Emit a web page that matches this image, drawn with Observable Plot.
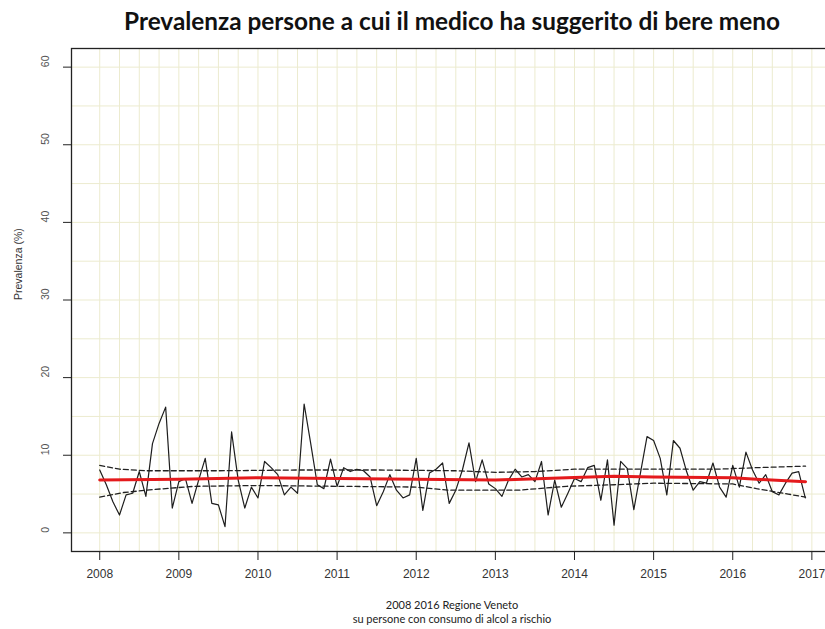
<!DOCTYPE html>
<html><head><meta charset="utf-8">
<script src="https://cdn.jsdelivr.net/npm/d3@7"></script>
<script src="https://cdn.jsdelivr.net/npm/@observablehq/plot@0.6"></script>
<style>
html,body{margin:0;padding:0;background:#fff;overflow:hidden;width:825px;height:629px}
#wrap{position:relative;width:825px;height:629px;overflow:hidden;background:#fff}
#title{position:absolute;left:0;top:9px;width:904px;text-align:center;font-family:Lato,"Open Sans",sans-serif;font-weight:bold;font-size:20px;line-height:24px;color:#111;white-space:nowrap}
#caption{position:absolute;left:0;top:598px;width:904px;text-align:center;font-family:Lato,"Open Sans",sans-serif;font-size:11px;line-height:14px;color:#222}
#chart{position:absolute;left:0;top:0;width:845px}
#chart svg{max-width:none !important;width:845px;height:629px}
</style></head>
<body><div id="wrap">
<div id="chart"></div>
<div id="title"><span id="tspan">Prevalenza persone a cui il medico ha suggerito di bere meno</span></div>
<div id="caption">2008 2016 Regione Veneto<br>su persone con consumo di alcol a rischio</div>
</div>
<script>
// Monthly prevalence (%), Jan 2008 .. Dec 2016
const startYear = 2008;
const prevalenza = [
  8.1, 6.2, 4.0, 2.3, 4.9, 5.1, 7.9, 4.7, 11.5, 14.1, 16.2, 3.2,
  6.6, 7.0, 3.8, 6.8, 9.6, 3.8, 3.6, 0.8, 13.0, 6.8, 3.2, 5.9,
  4.5, 9.2, 8.4, 7.5, 4.9, 5.9, 5.1, 16.6, 11.5, 6.2, 5.7, 9.5,
  6.0, 8.4, 7.9, 8.2, 8.0, 7.2, 3.5, 5.3, 7.5, 5.5, 4.5, 4.9,
  9.6, 2.9, 7.7, 8.2, 9.0, 3.8, 5.5, 8.1, 11.6, 6.6, 9.4, 6.3,
  5.7, 4.7, 6.8, 8.2, 7.2, 7.5, 6.6, 9.2, 2.3, 6.8, 3.3, 5.1,
  7.0, 6.6, 8.4, 8.7, 4.2, 9.4, 1.0, 9.2, 8.3, 3.0, 7.7, 12.4,
  11.9, 9.6, 4.9, 11.9, 10.9, 7.9, 5.5, 6.6, 6.4, 9.0, 5.9, 4.6,
  8.7, 5.9, 10.4, 8.1, 6.4, 7.5, 5.3, 4.9, 6.4, 7.7, 7.9, 4.5
];
// Trend (red)
const trendX = [2008.0, 2009.0, 2010.0, 2011.0, 2012.0, 2013.0, 2013.9, 2014.5, 2015.0, 2016.0, 2016.3, 2016.92];
const trendY = [6.8, 6.9, 7.1, 7.0, 6.9, 6.8, 7.1, 7.3, 7.2, 7.1, 6.9, 6.6];
// Upper / lower dashed bands
const upperX = [2008.0, 2008.25, 2008.6, 2009.5, 2010.5, 2011.5, 2012.5, 2013.0, 2013.5, 2014.0, 2015.0, 2015.8, 2016.3, 2016.92];
const upperY = [8.7, 8.2, 8.0, 8.0, 8.1, 8.1, 8.0, 7.8, 7.9, 8.2, 8.2, 8.2, 8.4, 8.6];
const lowerX = [2008.0, 2008.3, 2008.7, 2009.2, 2010.0, 2011.0, 2012.0, 2012.4, 2013.3, 2013.9, 2014.5, 2015.0, 2016.0, 2016.3, 2016.7, 2016.92];
const lowerY = [4.6, 5.2, 5.6, 6.0, 6.1, 6.0, 5.9, 5.5, 5.5, 6.0, 6.2, 6.4, 6.3, 5.7, 5.0, 4.6];
// Axis ticks
const xTicks = [2008, 2009, 2010, 2011, 2012, 2013, 2014, 2015, 2016, 2017];
const yTicks = [0, 10, 20, 30, 40, 50, 60];

const series = prevalenza.map((v, i) => ({x: startYear + i / 12, y: v}));
const trend = trendX.map((x, i) => ({x, y: trendY[i]}));
const upper = upperX.map((x, i) => ({x, y: upperY[i]}));
const lower = lowerX.map((x, i) => ({x, y: lowerY[i]}));

const xMin = series[0].x, xMax = series[series.length - 1].x;
const xPad = 0.04 * (xMax - xMin);
const yPad = 0.04 * 60;
const gridX = d3.range(xMin, xMax + xPad, 0.25);
const gridY = d3.range(0, 61, 5);
const grid = "#ecebcf";

const chart = Plot.plot({
  width: 845, height: 629,
  marginLeft: 71, marginRight: 12, marginTop: 48, marginBottom: 78,
  x: {domain: [xMin - xPad, xMax + xPad]},
  y: {domain: [-yPad, 60 + yPad]},
  style: {fontFamily: "'Liberation Sans', Arial, sans-serif", fontSize: "12px", color: "#222", background: "white"},
  marks: [
    Plot.ruleX(gridX, {stroke: grid, strokeWidth: 1}),
    Plot.ruleY(gridY, {stroke: grid, strokeWidth: 1}),
    Plot.line(upper, {x: "x", y: "y", stroke: "#222", strokeWidth: 1.3, strokeDasharray: "5,3"}),
    Plot.line(lower, {x: "x", y: "y", stroke: "#222", strokeWidth: 1.3, strokeDasharray: "5,3"}),
    Plot.line(series, {x: "x", y: "y", stroke: "#1e1e1e", strokeWidth: 1.2}),
    Plot.line(trend, {x: "x", y: "y", stroke: "#e41a1c", strokeWidth: 3}),
    Plot.frame({stroke: "#222", strokeWidth: 1.3}),
    Plot.axisY({ticks: yTicks, tickSize: 8, tickFormat: () => "", label: null, stroke: "#222"}),
    Plot.text(yTicks, {y: d => d, text: d => String(d), frameAnchor: "left", dx: -26, rotate: -90, fontSize: 10.5, fill: "#555"}),
    Plot.axisX({ticks: xTicks, tickSize: 9, tickPadding: 9, tickFormat: d => String(d), label: null, fontSize: 12, stroke: "#222", fill: "#333"}),
    Plot.text(["Prevalenza (%)"], {frameAnchor: "left", dx: -53, rotate: -90, fontSize: 10.5, fill: "#333"})
  ]
});
chart.style.maxWidth = "none";
document.getElementById("chart").appendChild(chart);

// fit the title to the reference width
const tspan = document.getElementById("tspan");
const w = tspan.getBoundingClientRect().width;
if (w > 0) document.getElementById("title").style.fontSize = (20 * 656 / w).toFixed(2) + "px";
</script>
</body></html>
